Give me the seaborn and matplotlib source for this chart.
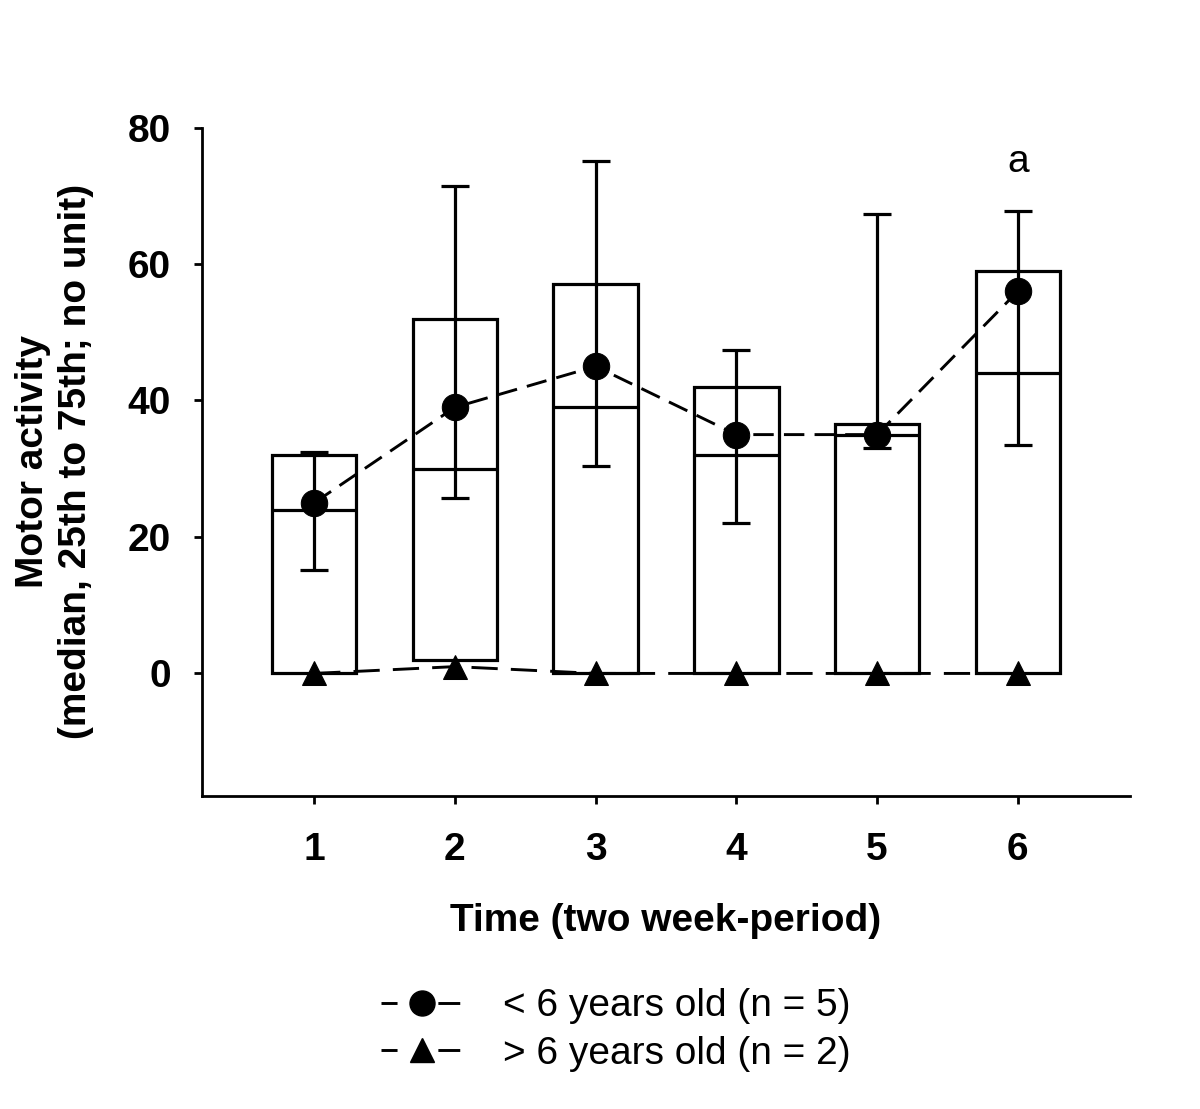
import matplotlib
matplotlib.use("Agg")
import matplotlib.pyplot as plt
from matplotlib.lines import Line2D
import seaborn as sns
import pandas as pd
import numpy as np

# ---- data ----
periods = [1, 2, 3, 4, 5, 6]
box_lower = [0, 2, 0, 0, 0, 0]
box_upper = [32, 52, 57, 42, 36.5, 59]
box_middle = [24, 30, 39, 32, 35, 44]
under6_median = [25, 39, 45, 35, 35, 56]
under6_err_low = [15.2, 25.7, 30.4, 22.0, 33.0, 33.5]
under6_err_high = [32.5, 71.4, 75.1, 47.4, 67.3, 67.7]
over6_median = [0, 1, 0, 0, 0, 0]
series_labels = ["< 6 years old (n = 5)", "> 6 years old (n = 2)"]
x_label = "Time (two week-period)"
y_label = "Motor activity\n(median, 25th to 75th; no unit)"
annotation_text = "a"
annotation_period = 6
annotation_value = 75.0

sns.set_style("ticks")
plt.rcParams['font.family'] = ['Liberation Sans', 'DejaVu Sans']
for k in ['text.color', 'axes.labelcolor', 'xtick.color', 'ytick.color',
          'axes.edgecolor']:
    plt.rcParams[k] = 'black'

FS = 28

fig = plt.figure(figsize=(12, 11.09), dpi=100)
ax = fig.add_axes([0.168, 0.282, 0.774, 0.603])

x = np.array(periods, dtype=float)
lo = np.array(box_lower, dtype=float)
hi = np.array(box_upper, dtype=float)
lw = 2.3

# boxes
ax.bar(x, hi - lo, bottom=lo, width=0.6, fill=False, edgecolor='black',
       linewidth=lw, zorder=2)
ax.hlines(box_middle, x - 0.3, x + 0.3, color='black', linewidth=lw, zorder=2)

# error bars of the < 6 group
med = np.array(under6_median, dtype=float)
yerr = [med - np.array(under6_err_low), np.array(under6_err_high) - med]
ax.errorbar(x, med, yerr=yerr, fmt='none', ecolor='black', elinewidth=lw,
            capsize=10, capthick=lw, zorder=3)

df = pd.DataFrame({"period": periods, "under6": under6_median,
                   "over6": over6_median})
sns.lineplot(data=df, x="period", y="under6", ax=ax, color='black',
             marker='o', markersize=19, markeredgecolor='black',
             linewidth=2.1, linestyle=(0, (7, 3.5)), legend=False,
             zorder=4)
sns.lineplot(data=df, x="period", y="over6", ax=ax, color='black',
             marker='^', markersize=17, markeredgecolor='black',
             linewidth=2.1, linestyle=(0, (9, 4.5)), legend=False,
             zorder=4)

ax.text(annotation_period, annotation_value, annotation_text, ha='center',
        va='center', fontsize=FS)

ax.set_xlim(0.2, 6.8)
ax.set_ylim(-18, 80)
ax.set_xticks(periods)
ax.set_yticks([0, 20, 40, 60, 80])
sns.despine(ax=ax)
for s in ['left', 'bottom']:
    ax.spines[s].set_linewidth(2)
ax.tick_params(axis='both', length=6, width=2, labelsize=FS)
ax.tick_params(axis='x', pad=20)
ax.tick_params(axis='y', pad=16)
for t in ax.get_xticklabels() + ax.get_yticklabels():
    t.set_fontweight('bold')

ax.set_xlabel(x_label, fontsize=FS, fontweight='bold', labelpad=25)
ax.set_ylabel(y_label, fontsize=FS, fontweight='bold', labelpad=24,
              linespacing=1.25)

# legend handles: "— marker —"
leg_dash = (0, (5.5, 14, 7.5, 50))
handles = [
    Line2D([0], [0], color='black', linewidth=2.1, linestyle=leg_dash,
           marker='o', markersize=18, markeredgecolor='black'),
    Line2D([0], [0], color='black', linewidth=2.1, linestyle=leg_dash,
           marker='^', markersize=17, markeredgecolor='black'),
]
fig.legend(handles, series_labels, loc='center', bbox_to_anchor=(0.513, 0.0712),
           frameon=False, fontsize=FS, handlelength=2.15, handletextpad=1.0,
           labelspacing=0.3)

fig.savefig("out.png", dpi=100, facecolor='white')
